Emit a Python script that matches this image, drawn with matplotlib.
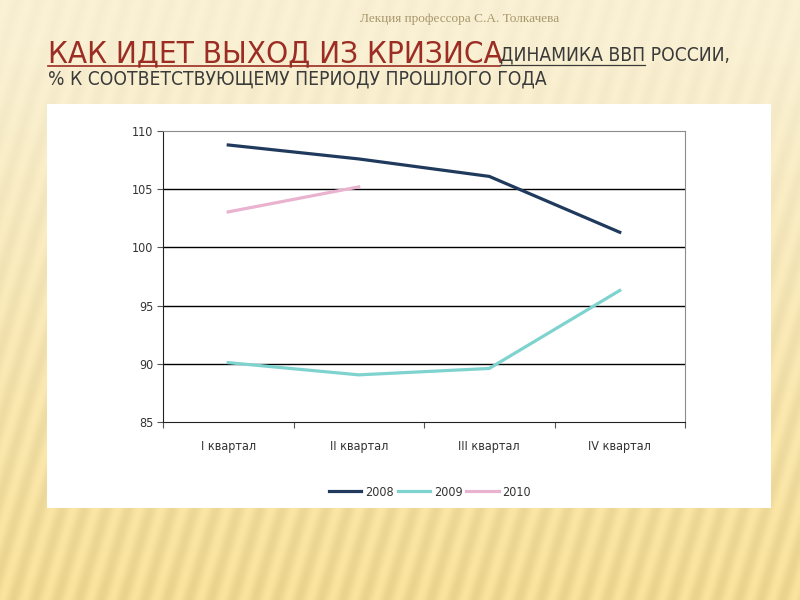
import numpy as np
import matplotlib
matplotlib.use('Agg')
import matplotlib.pyplot as plt
from matplotlib.lines import Line2D

# data
quarters = ['I квартал', 'II квартал', 'III квартал', 'IV квартал']
gdp_2008 = [108.8, 107.6, 106.1, 101.3]
gdp_2009 = [90.1, 89.05, 89.6, 96.3]
gdp_2010 = [103.05, 105.2]
years = ['2008', '2009', '2010']
y_ticks = [85, 90, 95, 100, 105, 110]

colors = ['#1f3a5c', '#7fd3cf', '#e9b3cf']
plt.rcParams['font.family'] = 'DejaVu Sans'
plt.rcParams['font.stretch'] = 'condensed'
COND = dict(family='DejaVu Sans', stretch='condensed')

fig = plt.figure(figsize=(8, 6), dpi=100)

# slide background: cream gradient with faint stripes
bg = fig.add_axes([0, 0, 1, 1], zorder=-10)
h, w = 600, 800
yy = np.linspace(0, 1, h)[:, None]
xx = np.arange(w)[None, :]
top = np.array([0.975, 0.94, 0.83])
bot = np.array([0.95, 0.86, 0.58])
t = np.clip((yy - 0.05) / 0.95, 0, 1)[..., None]
img = top * (1 - t) + bot * t
stripes = 0.025 * np.sin((xx + 0.3 * np.arange(h)[:, None]) / 3.5)
img = np.clip(img + (stripes * (0.3 + t[..., 0]))[..., None], 0, 1)
bg.imshow(img, aspect='auto', extent=[0, 1, 0, 1], origin='upper')
bg.axis('off')

# white chart panel
panel = fig.add_axes([47 / 800, 1 - 508 / 600, (771 - 47) / 800, (508 - 104) / 600], zorder=-5)
panel.set_facecolor('white')
panel.set_xticks([])
panel.set_yticks([])
for s in panel.spines.values():
    s.set_visible(False)

# header texts
fig.text(460 / 800, 1 - 19 / 600, 'Лекция профессора С.А. Толкачева', ha='center', va='center',
         family='Liberation Serif', fontsize=9.5, color='#a8976a')
fig.text(48 / 800, 1 - 62 / 600, 'КАК ИДЕТ ВЫХОД ИЗ КРИЗИСА', ha='left', va='baseline',
         fontsize=22.5, color='#9b2d24', **COND)
fig.text(500 / 800, 1 - 61 / 600, 'ДИНАМИКА ВВП РОССИИ,', ha='left', va='baseline',
         fontsize=13.8, color='#3a3a3a', **COND)
fig.text(48 / 800, 1 - 84 / 600, '% К СООТВЕТСТВУЮЩЕМУ ПЕРИОДУ ПРОШЛОГО ГОДА', ha='left',
         va='baseline', fontsize=13.8, color='#3a3a3a', **COND)
fig.add_artist(Line2D([48 / 800, 500 / 800], [1 - 66 / 600] * 2, color='#9b2d24', lw=1.2))
fig.add_artist(Line2D([500 / 800, 645 / 800], [1 - 65 / 600] * 2, color='#3a3a3a', lw=0.9))

ax = fig.add_axes([163 / 800, 1 - 422 / 600, (685 - 163) / 800, (422 - 131) / 600])
ax.set_facecolor('white')
x = np.arange(len(quarters))
ax.plot(x, gdp_2008, color=colors[0], lw=2.3, label=years[0])
ax.plot(x, gdp_2009, color=colors[1], lw=2.3, label=years[1])
ax.plot(x[:len(gdp_2010)], gdp_2010, color=colors[2], lw=2.3, label=years[2])

ax.set_xlim(-0.5, len(quarters) - 0.5)
ax.set_ylim(85, 110)
ax.set_yticks(y_ticks)
ax.set_yticklabels([str(v) for v in y_ticks], fontsize=9, color='#333333', **COND)
ax.set_xticks(list(x - 0.5) + [len(quarters) - 0.5])
ax.set_xticklabels([])
ax.set_xticks(x, minor=True)
ax.set_xticklabels(quarters, minor=True, fontsize=9, color='#333333', **COND)
ax.tick_params(axis='x', which='minor', length=0, pad=13)
ax.tick_params(axis='x', which='major', length=4, direction='out', color='#555555')
ax.tick_params(axis='y', length=4, direction='out', color='#555555', pad=3)
for v in y_ticks[1:-1]:
    ax.axhline(v, color='black', lw=1.0, zorder=0)
ax.spines['top'].set_color('#8c8c8c')
ax.spines['right'].set_color('#8c8c8c')
ax.spines['left'].set_color('#222222')
ax.spines['bottom'].set_color('#222222')

leg = ax.legend(loc='center', bbox_to_anchor=(430 / 800, 1 - 492 / 600), bbox_transform=fig.transFigure,
                ncol=3, frameon=False, handlelength=2.6, handletextpad=0.3, columnspacing=0.3,
                prop=dict(size=9, **COND))
for txt in leg.get_texts():
    txt.set_color('#333333')

fig.savefig('out.png', dpi=100)
